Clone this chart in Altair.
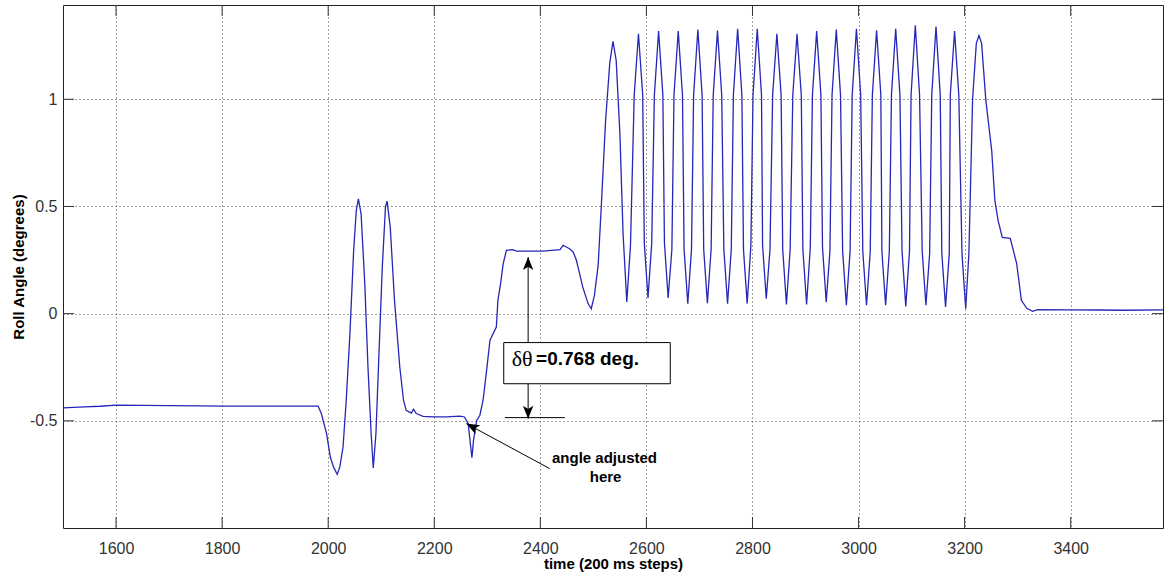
import altair as alt
import pandas as pd

# ---- data (time in 200 ms steps, roll angle in degrees) ----
time = [1500, 1540, 1570, 1600, 1650, 1700, 1760, 1800, 1850, 1900, 1950, 1981,
        1987, 1997, 2004, 2010, 2017, 2022, 2028, 2034, 2041, 2048, 2053, 2057,
        2062, 2069, 2075, 2081, 2085, 2090, 2096, 2102, 2108, 2111, 2117, 2125,
        2135, 2142, 2147, 2157, 2161, 2166, 2179, 2198, 2223, 2248, 2257, 2264,
        2268, 2271, 2274, 2280, 2286, 2292, 2298, 2305, 2311, 2317, 2320, 2325,
        2330, 2336, 2348, 2355, 2405, 2437, 2443, 2449, 2455, 2462, 2468, 2474,
        2480, 2490, 2496, 2502, 2509, 2515, 2523, 2531, 2537, 2543, 2550, 2556,
        2563, 2570, 2577, 2585, 2593, 2596, 2603, 2610, 2615, 2623, 2631, 2634,
        2641, 2648, 2652, 2660, 2668, 2671, 2678, 2685, 2689, 2697, 2705, 2708,
        2715, 2722, 2726, 2734, 2742, 2746, 2753, 2760, 2764, 2772, 2780, 2783,
        2790, 2797, 2801, 2809, 2817, 2819, 2826, 2833, 2838, 2846, 2854, 2857,
        2864, 2871, 2876, 2884, 2892, 2895, 2902, 2909, 2913, 2921, 2929, 2932,
        2939, 2946, 2950, 2958, 2966, 2970, 2977, 2984, 2988, 2996, 3004, 3008,
        3015, 3022, 3026, 3034, 3042, 3044, 3051, 3058, 3062, 3070, 3078, 3082,
        3089, 3096, 3099, 3107, 3115, 3120, 3127, 3134, 3138, 3146, 3154, 3157,
        3164, 3171, 3173, 3181, 3189, 3195, 3202, 3208, 3215, 3222, 3227, 3232,
        3240, 3251, 3257, 3263, 3271, 3286, 3298, 3307, 3317, 3328, 3338, 3400,
        3450, 3500, 3574]
angle = [-0.440, -0.435, -0.432, -0.427, -0.428, -0.429, -0.430, -0.431, -0.431, -0.431, -0.431, -0.431,
         -0.466, -0.560, -0.669, -0.715, -0.750, -0.715, -0.622, -0.404, -0.093, 0.295, 0.482, 0.535,
         0.466, 0.140, -0.249, -0.560, -0.720, -0.560, -0.171, 0.217, 0.497, 0.525, 0.404, 0.062,
         -0.249, -0.404, -0.451, -0.464, -0.446, -0.466, -0.479, -0.482, -0.482, -0.478, -0.482, -0.513,
         -0.606, -0.672, -0.591, -0.498, -0.474, -0.404, -0.280, -0.125, -0.093, -0.063, 0.062, 0.140,
         0.233, 0.295, 0.299, 0.292, 0.292, 0.299, 0.319, 0.311, 0.303, 0.287, 0.249, 0.187,
         0.124, 0.047, 0.023, 0.085, 0.225, 0.505, 0.900, 1.172, 1.270, 1.181, 0.840, 0.373,
         0.054, 0.32, 1.02, 1.306, 1.02, 0.33, 0.073, 0.33, 1.02, 1.318, 1.02, 0.33,
         0.073, 0.30, 1.02, 1.318, 1.02, 0.30, 0.047, 0.30, 1.02, 1.325, 1.02, 0.30,
         0.049, 0.30, 1.02, 1.321, 1.02, 0.30, 0.047, 0.30, 1.02, 1.329, 1.02, 0.30,
         0.047, 0.32, 1.02, 1.329, 1.02, 0.32, 0.070, 0.30, 1.02, 1.306, 1.02, 0.30,
         0.043, 0.30, 1.02, 1.306, 1.02, 0.30, 0.043, 0.31, 1.02, 1.318, 1.02, 0.31,
         0.054, 0.29, 1.02, 1.325, 1.02, 0.29, 0.039, 0.29, 1.02, 1.329, 1.02, 0.29,
         0.039, 0.29, 1.02, 1.322, 1.02, 0.29, 0.039, 0.29, 1.02, 1.329, 1.02, 0.29,
         0.034, 0.29, 1.02, 1.345, 1.02, 0.29, 0.039, 0.28, 1.02, 1.340, 1.02, 0.28,
         0.031, 0.28, 1.02, 1.318, 1.02, 0.28, 0.023, 0.28, 1.00, 1.261, 1.298, 1.261,
         0.995, 0.762, 0.528, 0.435, 0.356, 0.351, 0.235, 0.062, 0.025, 0.011, 0.019, 0.018,
         0.017, 0.016, 0.018]

x_ticks = [1600, 1800, 2000, 2200, 2400, 2600, 2800, 3000, 3200, 3400]
y_ticks = [-0.5, 0, 0.5, 1]
x_domain = [1500, 3574]
y_domain = [-1.0, 1.44]

# annotation geometry (data units)
arrow_x = [2377]
arrow_up = [0.264, -0.135]      # tip, box top
arrow_down = [-0.327, -0.490]   # box bottom, tip
level_line = [2333, 2446, -0.485]
box = [2331, 2645, -0.135, -0.327]
pointer = [2417.7, -0.723, 2260.6, -0.513]   # tail x, tail y, tip x, tip y
label_delta = "δθ"
label_value = "=0.768 deg."
label_note = ["angle adjusted", "here"]

W, H = 1100, 523
FONT = "Liberation Sans"
LINE = "#2626b8"

xs = alt.Scale(domain=x_domain, nice=False, zero=False)
ys = alt.Scale(domain=y_domain, nice=False, zero=False)

df = pd.DataFrame({"t": time, "a": angle})

line = alt.Chart(df).mark_line(color=LINE, strokeWidth=1.3, clip=True).encode(
    x=alt.X("t:Q", scale=xs, axis=alt.Axis(
        values=x_ticks, title="time (200 ms steps)", grid=True, gridDash=[1, 3],
        gridColor="#444", gridWidth=1, ticks=False, tickSize=0, domain=False,
        labelExpr="toString(datum.value)", labelFontSize=16, labelFont=FONT,
        labelColor="#333", labelPadding=12, titleFont=FONT, titleFontSize=15,
        titleFontWeight="bold", titleColor="#000", titleY=35, titleBaseline="middle")),
    y=alt.Y("a:Q", scale=ys, axis=alt.Axis(
        values=y_ticks, title="Roll Angle (degrees)", grid=True, gridDash=[1, 3],
        gridColor="#444", gridWidth=1, ticks=False, tickSize=0, domain=False,
        labelExpr="toString(datum.value)", labelFontSize=16, labelFont=FONT,
        labelColor="#333", labelPadding=6, titleFont=FONT, titleFontSize=15,
        titleFontWeight="bold", titleColor="#000", titleX=-45, titleY=H / 2,
        titleAngle=270, titleBaseline="middle", titleAlign="center")),
)

xt = pd.DataFrame({"t": x_ticks})
yt = pd.DataFrame({"a": y_ticks})
tick_col = "#333"
xtick_bottom = alt.Chart(xt).mark_rule(color=tick_col).encode(
    x=alt.X("t:Q", scale=xs, axis=None), y=alt.value(H), y2=alt.value(H - 11))
xtick_top = alt.Chart(xt).mark_rule(color=tick_col).encode(
    x=alt.X("t:Q", scale=xs, axis=None), y=alt.value(0), y2=alt.value(11))
ytick_left = alt.Chart(yt).mark_rule(color=tick_col).encode(
    y=alt.Y("a:Q", scale=ys, axis=None), x=alt.value(0), x2=alt.value(11))
ytick_right = alt.Chart(yt).mark_rule(color=tick_col).encode(
    y=alt.Y("a:Q", scale=ys, axis=None), x=alt.value(W), x2=alt.value(W - 11))

box_df = pd.DataFrame({"x": [box[0]], "x2": [box[1]], "y": [box[2]], "y2": [box[3]]})
box_mark = alt.Chart(box_df).mark_rect(fill="white", stroke="black", strokeWidth=1).encode(
    x=alt.X("x:Q", scale=xs, axis=None), x2="x2:Q",
    y=alt.Y("y:Q", scale=ys, axis=None), y2="y2:Q")

vl_df = pd.DataFrame({"x": arrow_x * 2, "y": [arrow_up[0], arrow_down[0]],
                      "y2": [arrow_up[1], arrow_down[1]]})
vlines = alt.Chart(vl_df).mark_rule(color="black", strokeWidth=1).encode(
    x=alt.X("x:Q", scale=xs, axis=None), y=alt.Y("y:Q", scale=ys, axis=None), y2="y2:Q")

hl_df = pd.DataFrame({"x": [level_line[0]], "x2": [level_line[1]], "y": [level_line[2]]})
hline = alt.Chart(hl_df).mark_rule(color="black", strokeWidth=1).encode(
    x=alt.X("x:Q", scale=xs, axis=None), x2="x2:Q", y=alt.Y("y:Q", scale=ys, axis=None))

pt_df = pd.DataFrame({"x": [pointer[0]], "y": [pointer[1]], "x2": [pointer[2]], "y2": [pointer[3]]})
pline = alt.Chart(pt_df).mark_rule(color="black", strokeWidth=1).encode(
    x=alt.X("x:Q", scale=xs, axis=None), y=alt.Y("y:Q", scale=ys, axis=None),
    x2="x2:Q", y2="y2:Q")

head_df = pd.DataFrame({"x": [arrow_x[0], arrow_x[0], pointer[2]],
                        "y": [arrow_up[0], arrow_down[1], pointer[3]],
                        "ang": [0, 180, 298]})
heads = alt.Chart(head_df).mark_point(
    shape="M0,0 L-0.4,1 L0,0.75 L0.4,1 Z", filled=True, color="black",
    opacity=1, size=676, strokeWidth=0).encode(
    x=alt.X("x:Q", scale=xs, axis=None), y=alt.Y("y:Q", scale=ys, axis=None),
    angle=alt.Angle("ang:Q", scale=None))

t1 = alt.Chart(pd.DataFrame({"x": [2346], "y": [-0.213], "s": [label_delta]})).mark_text(
    align="left", baseline="middle", font="Liberation Serif", fontSize=22, color="black").encode(
    x=alt.X("x:Q", scale=xs, axis=None), y=alt.Y("y:Q", scale=ys, axis=None), text="s:N")
t2 = alt.Chart(pd.DataFrame({"x": [2392], "y": [-0.213], "s": [label_value]})).mark_text(
    align="left", baseline="middle", font=FONT, fontSize=19, fontWeight="bold", color="black").encode(
    x=alt.X("x:Q", scale=xs, axis=None), y=alt.Y("y:Q", scale=ys, axis=None), text="s:N")
t3 = alt.Chart(pd.DataFrame({"x": [2521, 2523], "y": [-0.675, -0.764], "s": label_note})).mark_text(
    align="center", baseline="middle", font=FONT, fontSize=15, fontWeight="bold", color="black").encode(
    x=alt.X("x:Q", scale=xs, axis=None), y=alt.Y("y:Q", scale=ys, axis=None), text="s:N")

chart = alt.layer(
    line, xtick_bottom, xtick_top, ytick_left, ytick_right,
    vlines, hline, box_mark, pline, heads, t1, t2, t3
).resolve_axis(x="independent", y="independent").properties(
    width=W, height=H,
    autosize=alt.AutoSizeParams(type="none"),
    padding={"left": 63, "top": 5, "right": 2, "bottom": 45},
    background="white",
).configure_view(stroke="#222", strokeWidth=1)

chart.save("out.html", embed_options={"renderer": "svg", "actions": False})
